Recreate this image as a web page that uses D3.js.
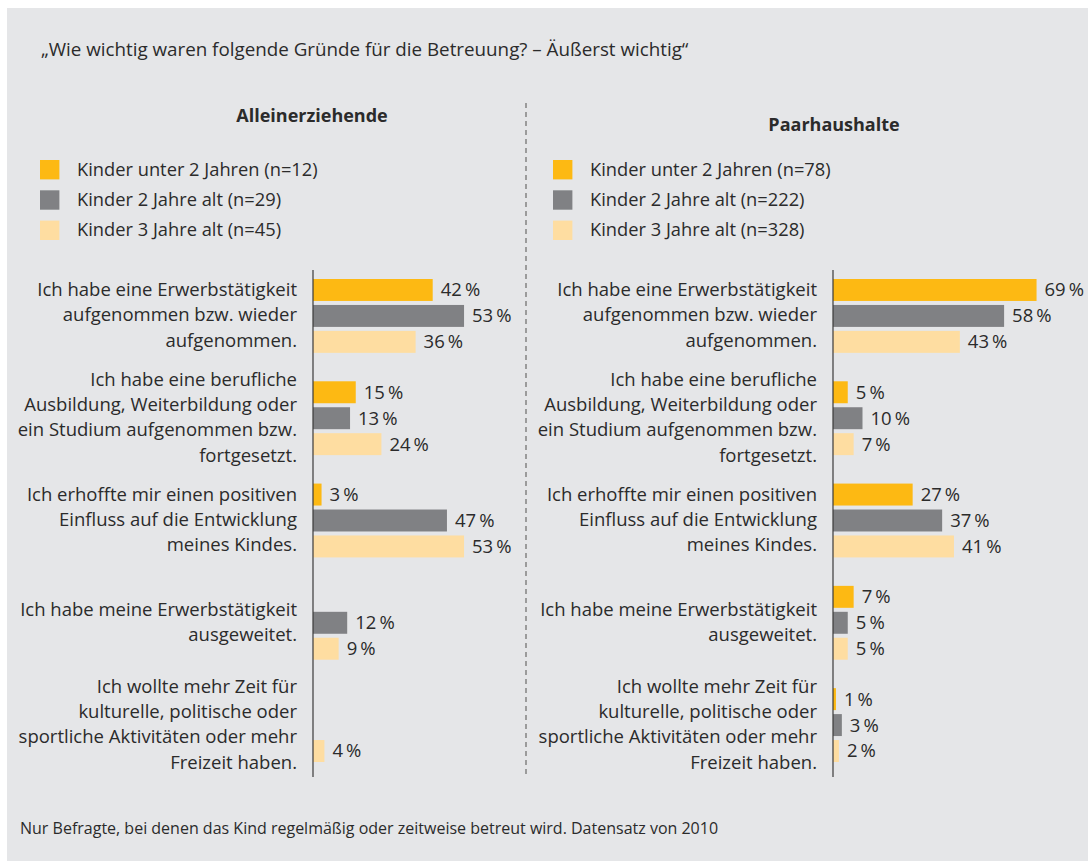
<!DOCTYPE html>
<html><head><meta charset="utf-8">
<script src="https://cdn.jsdelivr.net/npm/d3@7"></script>
<style>body{margin:0;background:#fff} text{font-family:'Open Sans',sans-serif;fill:#2b2b2b}</style>
</head><body><svg id="c" width="1088" height="861"></svg>
<script>
const title = "„Wie wichtig waren folgende Gründe für die Betreuung? – Äußerst wichtig“";
const footnote = "Nur Befragte, bei denen das Kind regelmäßig oder zeitweise betreut wird. Datensatz von 2010";
const panelTitles = ["Alleinerziehende", "Paarhaushalte"];
const seriesNames = ["Kinder unter 2 Jahren", "Kinder 2 Jahre alt", "Kinder 3 Jahre alt"];
const nAllein = [12, 29, 45];
const nPaar = [78, 222, 328];
const reasons = [
  ["Ich habe eine Erwerbstätigkeit", "aufgenommen bzw. wieder", "aufgenommen."],
  ["Ich habe eine berufliche", "Ausbildung, Weiterbildung oder", "ein Studium aufgenommen bzw.", "fortgesetzt."],
  ["Ich erhoffte mir einen positiven", "Einfluss auf die Entwicklung", "meines Kindes."],
  ["Ich habe meine Erwerbstätigkeit", "ausgeweitet."],
  ["Ich wollte mehr Zeit für", "kulturelle, politische oder", "sportliche Aktivitäten oder mehr", "Freizeit haben."]
];
const alleinUnter2 = [42, 15, 3, null, null];
const allein2 = [53, 13, 47, 12, null];
const allein3 = [36, 24, 53, 9, 4];
const paarUnter2 = [69, 5, 27, 7, 1];
const paar2 = [58, 10, 37, 5, 3];
const paar3 = [43, 7, 41, 5, 2];
const colors = ["#fdb913", "#808184", "#fedda1"];

const svg = d3.select("#c");
svg.append("rect").attr("x", 7).attr("y", 8).attr("width", 1081).attr("height", 853).attr("fill", "#e5e6e8");

svg.append("text").attr("x", 41).attr("y", 56).attr("font-size", 18.8).text(title);
svg.append("text").attr("x", 20).attr("y", 834).attr("font-size", 16).text(footnote);

svg.append("line").attr("x1", 526).attr("x2", 526).attr("y1", 103).attr("y2", 778)
  .attr("stroke", "#9b9b9b").attr("stroke-width", 2).attr("stroke-dasharray", "5,4");

const panels = [
  {title: panelTitles[0], ns: nAllein, data: [alleinUnter2, allein2, allein3], axisX: 313, titleX: 312, titleY: 122, legendX: 40, pxPer100: 285},
  {title: panelTitles[1], ns: nPaar, data: [paarUnter2, paar2, paar3], axisX: 833, titleX: 834, titleY: 131, legendX: 553, pxPer100: 295}
];

const FS = 18.5;
const y0 = d3.scaleBand().domain(d3.range(reasons.length)).range([279, 762]).paddingInner(0.278).paddingOuter(0);
const y1 = d3.scaleBand().domain(d3.range(seriesNames.length)).range([0, y0.bandwidth()]).paddingInner(0.154).paddingOuter(0);
const legendY = d3.scaleBand().domain(d3.range(seriesNames.length)).range([160, 240]).paddingInner(0.36);

panels.forEach(p => {
  const g = svg.append("g");
  g.append("text").attr("x", p.titleX).attr("y", p.titleY).attr("text-anchor", "middle")
    .attr("font-size", 18).attr("font-weight", "bold").text(p.title);

  seriesNames.forEach((s, i) => {
    g.append("rect").attr("x", p.legendX).attr("y", legendY(i)).attr("width", legendY.bandwidth()).attr("height", legendY.bandwidth()).attr("fill", colors[i]);
    g.append("text").attr("x", p.legendX + 37).attr("y", legendY(i) + legendY.bandwidth() / 2).attr("dy", "0.33em")
      .attr("font-size", 18.3).text(`${s} (n=${p.ns[i]})`);
  });

  const x = d3.scaleLinear().domain([0, 100]).range([p.axisX, p.axisX + p.pxPer100]);

  reasons.forEach((lines, r) => {
    const cy = y0(r) + y0.bandwidth() / 2;
    const lh = 25.4;
    const t = g.append("text").attr("text-anchor", "end").attr("font-size", FS);
    lines.forEach((l, k) => {
      t.append("tspan").attr("x", p.axisX - 16).attr("y", cy + (k - (lines.length - 1) / 2) * lh).attr("dy", "0.3em").text(l);
    });
    p.data.forEach((arr, si) => {
      const v = arr[r];
      if (v == null) return;
      const by = y0(r) + y1(si);
      g.append("rect").attr("x", x(0)).attr("y", by).attr("width", x(v) - x(0)).attr("height", y1.bandwidth()).attr("fill", colors[si]);
      g.append("text").attr("x", x(v) + 8).attr("y", by + y1.bandwidth() / 2).attr("dy", "0.35em")
        .attr("font-size", FS).text(v + "\u2009%");
    });
  });

  g.append("line").attr("x1", p.axisX).attr("x2", p.axisX).attr("y1", 270).attr("y2", 777)
    .attr("stroke", "#3a3a3a").attr("stroke-width", 1.2);
});
</script></body></html>
